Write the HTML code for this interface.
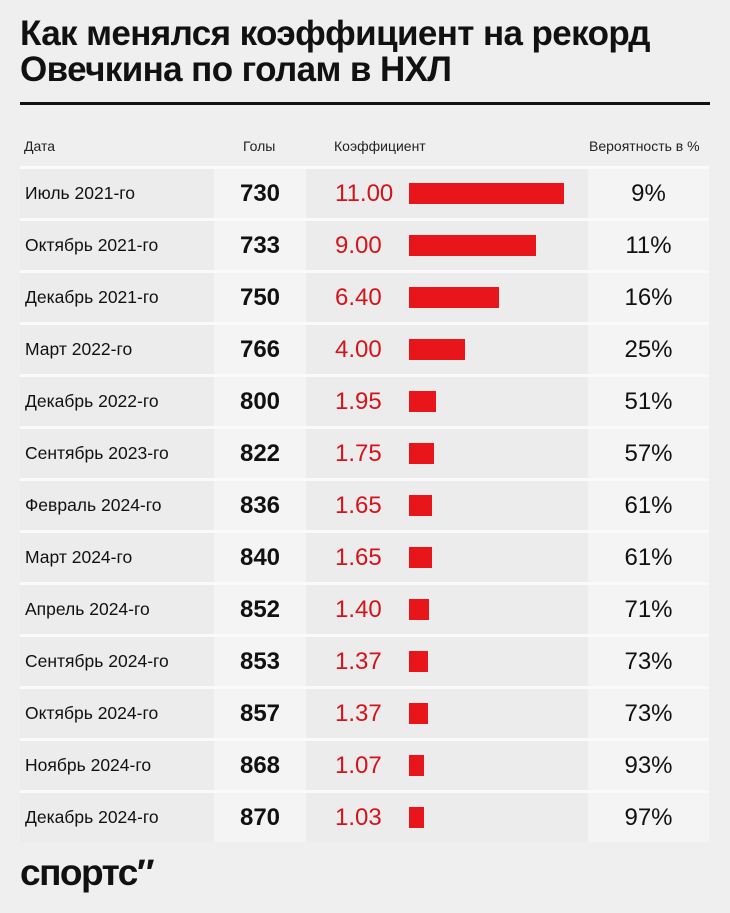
<!DOCTYPE html>
<html><head><meta charset="utf-8"><style>
body{margin:0;width:730px;height:913px;background:#efefef;font-family:"Liberation Sans","DejaVu Sans",sans-serif;position:relative;overflow:hidden;color:#111}
.t{position:absolute;left:20px;top:16px;font-size:35px;font-weight:bold;line-height:36px;letter-spacing:-0.6px}
.rule{position:absolute;left:20px;top:102px;width:690px;height:3px;background:#111}
.h{position:absolute;top:138px;font-size:14px;color:#222}
.bg{position:absolute;left:20px;top:166px;width:689px;height:676px;background:#fafafa}
.row{position:absolute;left:20px;width:689px;height:49px}
.c{position:absolute;top:0;height:49px;line-height:49px}
.logo{position:absolute;left:20px;top:852px;font-size:37px;font-weight:bold;letter-spacing:-1.5px}
</style></head><body>
<div class="t">Как менялся коэффициент на рекорд<br>Овечкина по голам в НХЛ</div>
<div class="rule"></div>
<div class="h" style="left:24px">Дата</div>
<div class="h" style="left:243px">Голы</div>
<div class="h" style="left:334px">Коэффициент</div>
<div class="h" style="left:589px">Вероятность в %</div>
<div class="bg"></div>
<div id="tbl"></div>
<div class="logo">спортс″</div>
<script>
const dates=["Июль 2021-го","Октябрь 2021-го","Декабрь 2021-го","Март 2022-го","Декабрь 2022-го","Сентябрь 2023-го","Февраль 2024-го","Март 2024-го","Апрель 2024-го","Сентябрь 2024-го","Октябрь 2024-го","Ноябрь 2024-го","Декабрь 2024-го"];
const goals=[730,733,750,766,800,822,836,840,852,853,857,868,870];
const coefs=[11.00,9.00,6.40,4.00,1.95,1.75,1.65,1.65,1.40,1.37,1.37,1.07,1.03];
const probs=[9,11,16,25,51,57,61,61,71,73,73,93,97];
const tbl=document.getElementById('tbl');
const xScale=v=>v*14.1;
dates.forEach((d,i)=>{
  const r=document.createElement('div');
  r.className='row';
  r.style.top=(169+i*52)+'px';
  
  
  r.innerHTML=
   '<div class="c" style="left:0;width:194px;background:#ececec"><span style="padding-left:5px;font-size:17.5px">'+d+'</span></div>'+
   '<div class="c" style="left:194px;width:92px;background:#f4f4f4;text-align:center;font-size:24px;font-weight:bold">'+goals[i]+'</div>'+
   '<div class="c" style="left:286px;width:282px;background:#ececec"><span style="position:absolute;left:29px;font-size:24px;color:#d4141b">'+coefs[i].toFixed(2)+'</span></div>'+
   '<div class="c" style="left:568px;width:121px;background:#f4f4f4;text-align:center;font-size:24px">'+probs[i]+'%</div>';
  const b=document.createElement('div');
  
  
  b.style.cssText='position:absolute;left:389px;top:14px;height:21px;background:#e8161b;width:'+xScale(coefs[i])+'px';
  r.appendChild(b);
  tbl.appendChild(r);
});
</script>
</body></html>
